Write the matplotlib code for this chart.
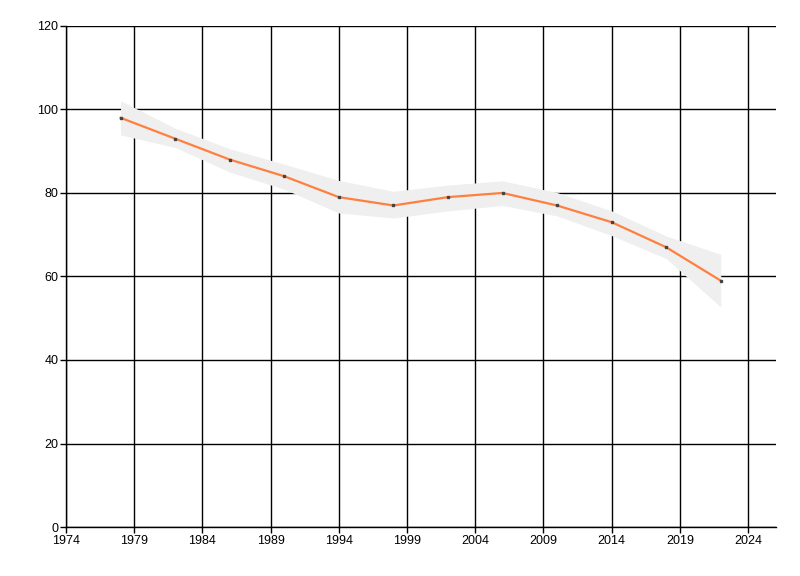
import numpy as np
from matplotlib import pyplot as plt

# data
years = [1978, 1982, 1986, 1990, 1994, 1998, 2002, 2006, 2010, 2014, 2018, 2022]
values = [98, 93, 88, 84, 79, 77, 79, 80, 77, 73, 67, 59]
band_upper = [102.1, 95.5, 90.6, 86.9, 83.0, 80.4, 81.9, 82.9, 80.1, 75.7, 69.7, 65.3]
band_lower = [93.9, 90.9, 85.0, 80.9, 75.2, 74.0, 75.7, 77.0, 74.5, 69.8, 64.3, 52.7]
x_ticks = list(range(1974, 2025, 5))
y_ticks = list(range(0, 121, 20))

plt.rcParams['font.family'] = ['Liberation Sans', 'DejaVu Sans']

fig = plt.figure(figsize=(8, 5.76), dpi=100)
ax = fig.add_axes([0.0825, 0.085, 0.8875, 0.870])

# confidence band over the grid, line on top
ax.fill_between(years, band_lower, band_upper, color='#efefef', lw=0, zorder=2)
ax.plot(years, values, color='#ff7f3f', lw=1.6, zorder=3)
ax.plot(years, values, ls='none', marker='s', ms=1.8, color='#444444', zorder=4)

ax.set_xlim(1974, 2026.05)
ax.set_ylim(0, 120)
ax.set_xticks(x_ticks)
ax.set_yticks(y_ticks)
ax.grid(True, color='black', lw=1.0, zorder=1)
ax.set_axisbelow(True)

for s in ['top', 'right']:
    ax.spines[s].set_visible(False)
for s in ['left', 'bottom']:
    ax.spines[s].set_color('black')
    ax.spines[s].set_linewidth(1.0)

ax.tick_params(axis='both', length=4, width=1.0, color='black', labelsize=9,
               labelcolor='black', pad=1.5)

plt.savefig('out.png', dpi=100)
